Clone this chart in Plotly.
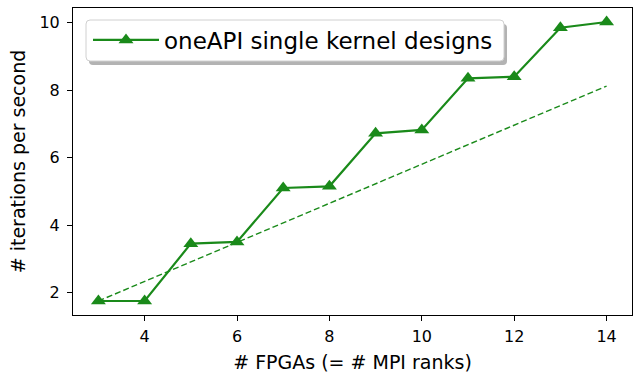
import plotly.graph_objects as go

fpgas = [3, 4, 5, 6, 7, 8, 9, 10, 11, 12, 13, 14]
iters = [1.75, 1.75, 3.45, 3.5, 5.1, 5.15, 6.72, 6.82, 8.35, 8.4, 9.85, 10.02]
ideal_x = [3, 14]
ideal_y = [1.75, 8.12]
x_ticks = [4, 6, 8, 10, 12, 14]
y_ticks = [2, 4, 6, 8, 10]

green = "#1a8a1a"
fig = go.Figure()
fig.add_trace(go.Scatter(x=fpgas, y=iters, mode="lines+markers",
                         name="oneAPI single kernel designs",
                         line=dict(color=green, width=2.2),
                         marker=dict(symbol="triangle-up", size=13, color=green)))
fig.add_trace(go.Scatter(x=ideal_x, y=ideal_y, mode="lines", showlegend=False,
                         line=dict(color=green, width=1.4, dash="6px,3px")))

L, R, T, B = 73, 1, 8, 58
W, H = 633, 373
pw, ph = W - L - R, H - T - B

def px(xp):
    return (xp - L) / pw

def py(yp):
    return 1 - (yp - T) / ph

def rrect(x0, y0, x1, y1, r=4):
    rx, ry = r / pw, r / ph
    a0, a1 = px(x0), px(x1)
    b0, b1 = py(y1), py(y0)
    return (f"M{a0+rx},{b0} L{a1-rx},{b0} Q{a1},{b0} {a1},{b0+ry} "
            f"L{a1},{b1-ry} Q{a1},{b1} {a1-rx},{b1} L{a0+rx},{b1} "
            f"Q{a0},{b1} {a0},{b1-ry} L{a0},{b0+ry} Q{a0},{b0} {a0+rx},{b0} Z")

fig.add_shape(type="path", xref="paper", yref="paper", path=rrect(89, 24, 507, 65),
              fillcolor="#b3b3b3", line=dict(width=0), layer="above")
fig.add_shape(type="path", xref="paper", yref="paper", path=rrect(86, 20, 504, 61),
              fillcolor="white", line=dict(color="#d0d0d0", width=1), layer="above")

fig.update_layout(
    width=W, height=H,
    margin=dict(l=L, r=R, t=T, b=B),
    paper_bgcolor="white", plot_bgcolor="white",
    font=dict(family="DejaVu Sans", size=16, color="black"),
    showlegend=True,
    legend=dict(x=px(88), y=py(40), xanchor="left", yanchor="middle",
                bgcolor="rgba(0,0,0,0)", borderwidth=0,
                font=dict(size=23), itemwidth=66),
    xaxis=dict(range=[2.45, 14.55], tickvals=x_ticks, ticks="outside",
               ticklen=5, tickcolor="black", showline=True, mirror=True,
               linecolor="black", linewidth=1, showgrid=False, zeroline=False,
               automargin=False, ticklabelstandoff=2,
               title=dict(text="# FPGAs (= # MPI ranks)", standoff=10)),
    yaxis=dict(range=[1.335, 10.435], tickvals=y_ticks, ticks="outside",
               ticklen=5, tickcolor="black", showline=True, mirror=True,
               linecolor="black", linewidth=1, showgrid=False, zeroline=False,
               automargin=False, ticklabelstandoff=4,
               title=dict(text="# iterations per second", standoff=8)),
)

fig.write_html("out.html", config={"displayModeBar": False},
               post_script="document.body.style.margin='0';document.body.style.overflow='hidden';")
